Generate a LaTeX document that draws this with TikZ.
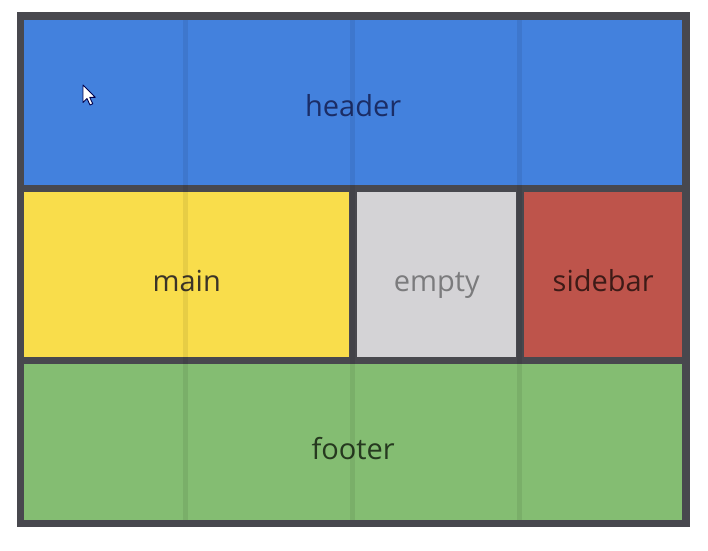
\documentclass[tikz,border=0pt]{standalone}
\usepackage{fontspec}
\setmainfont{Open Sans}
\usepackage{tikz}
\usetikzlibrary{positioning}

\definecolor{framegray}{HTML}{48484E}
\definecolor{headerblue}{HTML}{4381DD}
\definecolor{mainyellow}{HTML}{F9DD4B}
\definecolor{emptygray}{HTML}{D4D3D6}
\definecolor{sidebarred}{HTML}{BE544B}
\definecolor{footergreen}{HTML}{84BD72}
\definecolor{headertext}{HTML}{1B2D66}
\definecolor{maintext}{HTML}{3B3428}
\definecolor{emptytext}{HTML}{7B7B7D}
\definecolor{sidebartext}{HTML}{3D1B17}
\definecolor{footertext}{HTML}{26391F}

\tikzset{
  area/.style={rectangle,inner sep=0pt,anchor=north west,font=\fontsize{29}{30}\selectfont,
    text height=34pt,text depth=0pt},
  gridline/.style={black,opacity=0.07,line width=5pt}
}

\begin{document}
\begin{tikzpicture}[x=1pt,y=-1pt]
        %
        \fill[white] (0,0) rectangle (708,550);
        \useasboundingbox (0,0) rectangle (708,550);
        \fill[framegray] (17,12) rectangle (690,527);
        %
        \node[area,fill=headerblue,text=headertext,minimum width=658pt,minimum height=165pt,text height=27pt] (header) at (24,20) {header};
        \node[area,fill=mainyellow,text=maintext,minimum width=325pt,minimum height=165pt] (main) at (24,192) {main};
        \node[area,fill=emptygray,text=emptytext,minimum width=159pt,minimum height=165pt] (empty) at (357,192) {empty};
        \node[area,fill=sidebarred,text=sidebartext,minimum width=158pt,minimum height=165pt] (sidebar) at (524,192) {sidebar};
        \node[area,fill=footergreen,text=footertext,minimum width=658pt,minimum height=156pt] (footer) at (24,364) {footer};
        %
        \foreach \gx in {185,352.5,519.5}
          \draw[gridline] (\gx,20) -- (\gx,520);
        %
        % mouse pointer
        \draw[fill=white,draw=blue!30!black,line width=0.9pt,line join=round,shift={(83,85)},scale=1.25]
          (0,0) -- (0,14) -- (3.2,10.8) -- (5.6,16) -- (7.8,15) -- (5.4,9.9) -- (9.8,9.9) -- cycle;
        %
    \end{tikzpicture}
\end{document}
